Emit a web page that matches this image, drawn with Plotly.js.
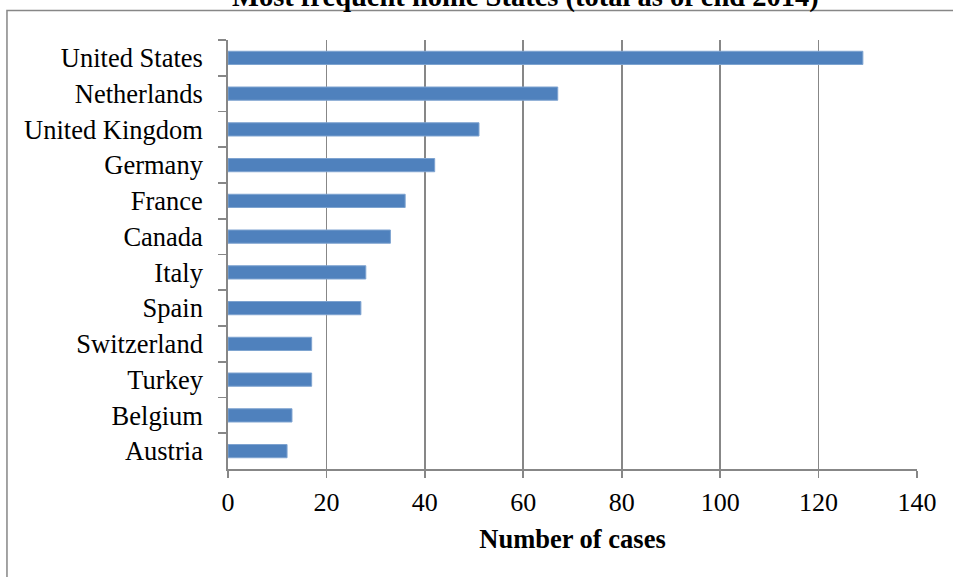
<!DOCTYPE html>
<html>
<head>
<meta charset="utf-8">
<script src="https://cdn.plot.ly/plotly-3.0.1.min.js"></script>
<style>html,body{margin:0;padding:0;background:#fff;}#chart{width:953px;height:577px;}</style>
</head>
<body>
<div id="chart"></div>
<script>
const countries = ["United States","Netherlands","United Kingdom","Germany","France","Canada","Italy","Spain","Switzerland","Turkey","Belgium","Austria"];
const cases = [129, 67, 51, 42, 36, 33, 28, 27, 17, 17, 13, 12];
const xTicks = [0, 20, 40, 60, 80, 100, 120, 140];
const chartTitle = "Most frequent home States (total as of end 2014)";
const xTitle = "Number of cases";

const grey = "#878787";
const font = "'Liberation Serif', 'Times New Roman', serif";

const trace = {
  type: "bar",
  orientation: "h",
  x: cases,
  y: countries,
  marker: {color: "#4f81bd", line: {color: "#7ea3d0", width: 1}},
  hoverinfo: "x+y"
};

const layout = {
  width: 953, height: 577,
  margin: {l: 228, r: 36, t: 39.5, b: 108, pad: 0},
  paper_bgcolor: "#ffffff",
  plot_bgcolor: "#ffffff",
  font: {family: font, color: "#000000", size: 26.5},
  bargap: 0.63,
  showlegend: false,
  xaxis: {
    range: [0, 140],
    tickvals: xTicks,
    ticktext: xTicks.map(String),
    showgrid: true, gridcolor: grey, gridwidth: 1.8,
    zeroline: false,
    showline: true, linecolor: grey, linewidth: 1.8,
    ticks: "outside", ticklen: 7, tickcolor: grey, tickwidth: 1.8,
    tickfont: {family: font, size: 26, color: "#000"},
    ticklabelstandoff: 2,
    title: {text: "<b>" + xTitle + "</b>", font: {family: font, size: 26.5, color: "#000"}, standoff: 13},
    fixedrange: true
  },
  yaxis: {
    type: "category",
    autorange: "reversed",
    showgrid: false,
    zeroline: false,
    showline: true, linecolor: grey, linewidth: 1.8,
    ticks: "outside", tickson: "boundaries", ticklen: 8, tickcolor: grey, tickwidth: 1.8,
    tickfont: {family: font, size: 26.5, color: "#000"},
    ticklabelstandoff: 18,
    fixedrange: true
  },
  annotations: [{
    text: "<b>" + chartTitle + "</b>",
    xref: "paper", yref: "paper",
    x: (525 - 228) / 689, xanchor: "center",
    y: (469 + 4) / 429.5, yanchor: "middle",
    showarrow: false,
    font: {family: font, size: 28.5, color: "#000"}
  }],
  shapes: [{
    type: "rect", xref: "paper", yref: "paper",
    x0: -0.3208, x1: 1.2, y0: -0.5, y1: 1.0687,
    line: {color: grey, width: 1.5}, fillcolor: "rgba(0,0,0,0)", layer: "above"
  }]
};

Plotly.newPlot("chart", [trace], layout, {displayModeBar: false, staticPlot: true});
</script>
</body>
</html>
